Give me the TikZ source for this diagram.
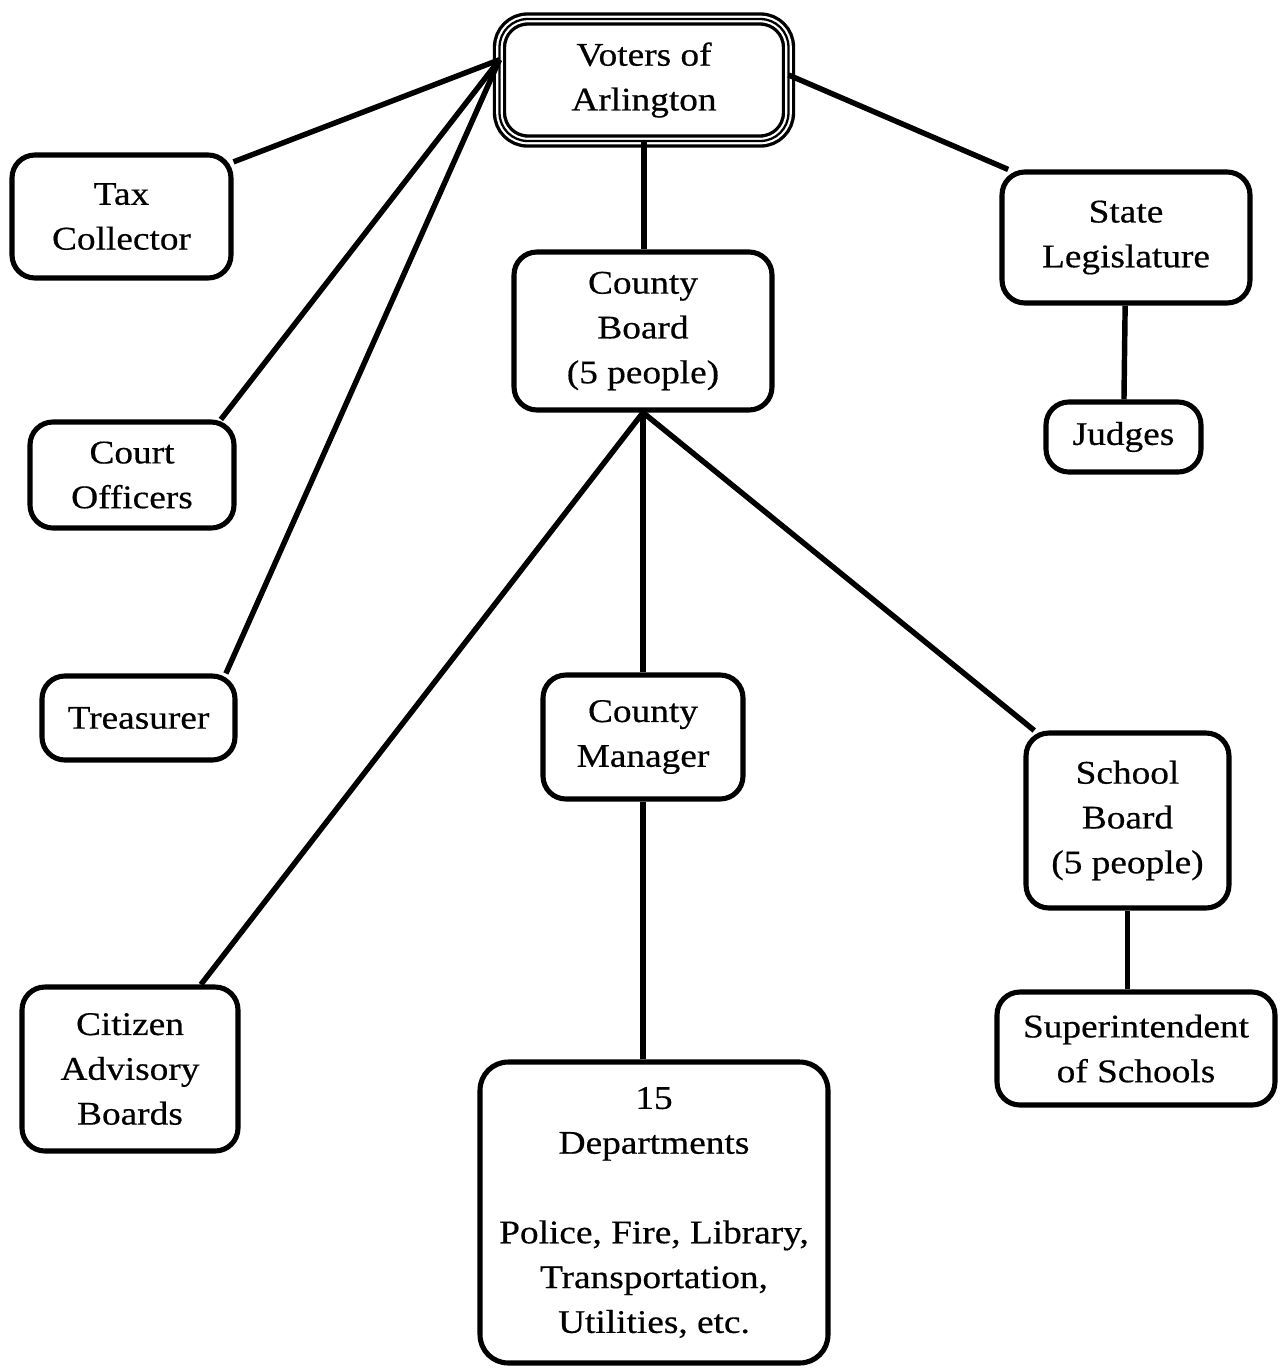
\documentclass[tikz,border=0pt]{standalone}
\usepackage{fontspec}
\setmainfont{Liberation Serif}[FakeStretch=1.13, FakeBold=0.5]
\begin{document}
\begin{tikzpicture}[x=0.02cm, y=-0.02cm,
  font=\fontsize{18.8}{25.5}\selectfont,
  box/.style={draw, line width=2.9pt, rounded corners=13pt, align=center, inner sep=0pt},
  link/.style={line width=3.1pt}]
  \useasboundingbox (0,0) rectangle (1280,1370);

  % top: the voters (triple border drawn below)
  \node[align=center, inner sep=0pt, outer sep=0pt, minimum width=5.78cm, minimum height=2.44cm]
    (voters) at (644,80) {Voters of\\Arlington};
  \draw[line width=7.6pt, rounded corners=16pt] (voters.south west) rectangle (voters.north east);
  \draw[white, line width=3.8pt, rounded corners=16pt] (voters.south west) rectangle (voters.north east);
  \draw[line width=1.3pt, rounded corners=16pt] (voters.south west) rectangle (voters.north east);

  % left column
  \node[box, minimum width=4.38cm, minimum height=2.46cm] (tax) at (121.5,216.5) {Tax\\Collector};
  \node[box, minimum width=4.08cm, minimum height=2.12cm] (court) at (132,475) {Court\\Officers};
  \node[box, minimum width=3.86cm, minimum height=1.68cm] (treas) at (138.5,718) {Treasurer};
  \node[box, minimum width=4.32cm, minimum height=3.28cm] (citizen) at (130,1069) {Citizen\\Advisory\\Boards};

  % middle column
  \node[box, minimum width=5.16cm, minimum height=3.16cm] (board) at (643,331) {County\\Board\\(5 people)};
  \node[box, minimum width=4.00cm, minimum height=2.48cm] (manager) at (643,737) {County\\Manager};
  \node[box, rounded corners=16pt, minimum width=6.96cm, minimum height=6.02cm] (depts) at (654,1212.5)
    {15\\Departments\\[25.5pt]Police, Fire, Library,\\Transportation,\\Utilities, etc.};

  % right column
  \node[box, minimum width=4.96cm, minimum height=2.62cm] (state) at (1126,237.5) {State\\Legislature};
  \node[box, minimum width=3.10cm, minimum height=1.40cm] (judges) at (1123.5,437) {Judges};
  \node[box, minimum width=4.06cm, minimum height=3.50cm] (school) at (1127.5,820.5) {School\\Board\\(5 people)};
  \node[box, minimum width=5.56cm, minimum height=2.26cm] (super) at (1136,1048.5) {Superintendent\\of Schools};

  % links from the voters
  \draw[link] (voters.172) -- (tax.26);
  \draw[link] (voters.172) -- (court.32);
  \draw[link] (voters.172) -- (treas.27);
  \draw[link] (voters.south) -- (voters.south |- board.north);
  \draw[link] (voters.2) -- (state.150);

  % links below the boards
  \draw[link] (board.south) -- (citizen.50);
  \draw[link] (board.south) -- (manager.north);
  \draw[link] (board.south) -- (school.136);
  \draw[link] (manager.south) -- (manager.south |- depts.north);
  \draw[link] (state) -- (judges);
  \draw[link] (school.south) -- (school.south |- super.north);
\end{tikzpicture}
\end{document}
